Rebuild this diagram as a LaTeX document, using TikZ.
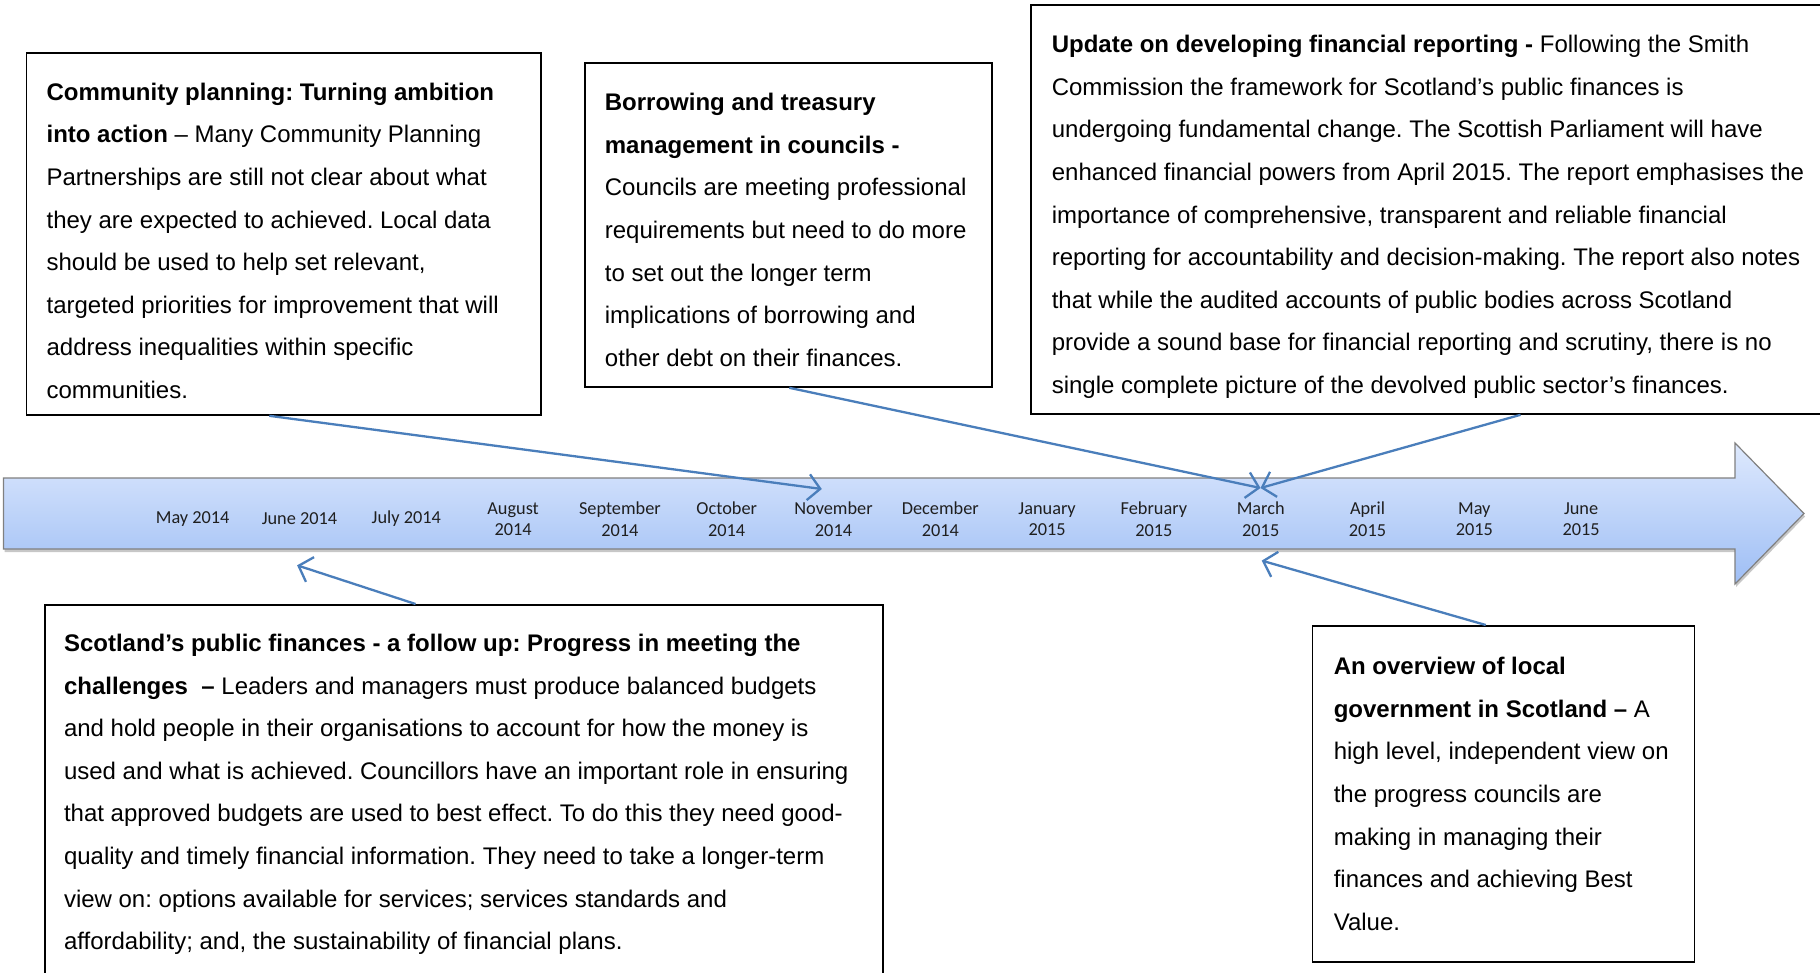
\documentclass[tikz,border=0pt]{standalone}
\usepackage{fontspec}
\setmainfont{Liberation Sans}
\newfontfamily\monthfont{Carlito}
\usetikzlibrary{arrows.meta,shadows}
\frenchspacing

\definecolor{linkblue}{RGB}{74,126,187}
\definecolor{bandtop}{RGB}{222,233,253}
\definecolor{bandbottom}{RGB}{158,190,245}
\definecolor{bandedge}{RGB}{128,128,128}

\tikzset{
  card/.style={draw=black, line width=1.8pt, fill=white, anchor=north west, inner sep=0pt},
  cardtext/.style={anchor=north west, align=left, inner sep=0pt,
    font=\fontsize{24}{42.6}\selectfont},
  month/.style={align=center, inner sep=0pt, text=black!88,
    font=\monthfont\fontsize{18.3}{21.5}\selectfont},
  link/.style={draw=linkblue, line width=2.3pt,
    -{Straight Barb[length=12pt,width=26pt,line width=2.3pt]}},
}
% first line of every card starts with this strut, so the node top sits 18pt above its baseline
\newcommand{\firststrut}{\rule{0pt}{18pt}}

\begin{document}
\begin{tikzpicture}[x=1pt,y=-1pt]
\useasboundingbox (0,0) rectangle (1820,972);
\clip (0,0) rectangle (1820,972);
\fill[white] (0,0) rectangle (1820,972);

% timeline band with its arrow head
\path[draw=bandedge, line width=1.2pt, top color=bandtop, bottom color=bandbottom,
      drop shadow={shadow xshift=1pt, shadow yshift=-3pt, fill=black, opacity=0.22}]
  (3.5,478) -- (1735,478) -- (1735,443) -- (1804,513.5) -- (1735,584) -- (1735,549)
  -- (3.5,549) -- cycle;

% month labels
\foreach \lab [count=\i] in {May 2014, June 2014, July 2014, {August\\2014},
    {September\\2014}, {October\\2014}, {November\\2014}, {December\\2014},
    {January\\2015}, {February\\2015}, {March\\2015}, {April\\2015},
    {May\\2015}, {June\\2015}}
  \node[month] (m\i) at ({192.7+106.8*(\i-1)},519) {\lab};

% report cards
\node[card, minimum width=514.5pt, minimum height=362pt] (cp) at (25.5,52) {};
\node[cardtext] (cptext) at (46.4,82) {\firststrut\textbf{Community planning: Turning ambition}\\
  \textbf{into action} – Many Community Planning\\
  Partnerships are still not clear about what\\
  they are expected to achieved. Local data\\
  should be used to help set relevant,\\
  targeted priorities for improvement that will\\
  address inequalities within specific\\
  communities.};

\node[card, minimum width=407pt, minimum height=324pt] (bt) at (584,62) {};
\node[cardtext] (bttext) at (604.7,92.4) {\firststrut\textbf{Borrowing and treasury}\\
  \textbf{management in councils -}\\
  Councils are meeting professional\\
  requirements but need to do more\\
  to set out the longer term\\
  implications of borrowing and\\
  other debt on their finances.};

\node[card, minimum width=810pt, minimum height=409pt] (fr) at (1030,4) {};
\node[cardtext] (frtext) at (1051.6,34.4) {\firststrut\textbf{Update on developing financial reporting -} Following the Smith\\
  Commission the framework for Scotland’s public finances is\\
  undergoing fundamental change. The Scottish Parliament will have\\
  enhanced financial powers from April 2015. The report emphasises the\\
  importance of comprehensive, transparent and reliable financial\\
  reporting for accountability and decision-making. The report also notes\\
  that while the audited accounts of public bodies across Scotland\\
  provide a sound base for financial reporting and scrutiny, there is no\\
  single complete picture of the devolved public sector’s finances.};

\node[card, minimum width=838pt, minimum height=390pt] (pf) at (44,604) {};
\node[cardtext] (pftext) at (63.8,633.3) {\firststrut\textbf{Scotland’s public finances - a follow up: Progress in meeting the}\\
  \textbf{challenges\ \ –} Leaders and managers must produce balanced budgets\\
  and hold people in their organisations to account for how the money is\\
  used and what is achieved. Councillors have an important role in ensuring\\
  that approved budgets are used to best effect. To do this they need good-\\
  quality and timely financial information. They need to take a longer-term\\
  view on: options available for services; services standards and\\
  affordability; and, the sustainability of financial plans.};

\node[card, minimum width=382pt, minimum height=336pt] (lg) at (1311.6,625) {};
\node[cardtext] (lgtext) at (1333.6,656.5) {\firststrut\textbf{An overview of local}\\
  \textbf{government in Scotland –} A\\
  high level, independent view on\\
  the progress councils are\\
  making in managing their\\
  finances and achieving Best\\
  Value.};

% points on the timeline that the cards refer to
\coordinate (novtop) at (821.8,489);
\coordinate (martop) at (1260.5,488);
\coordinate (marbottom) at (1261.7,560.6);
\coordinate (junbottom) at (297.1,565.3);

% connectors
\draw[link] ([xshift=243.8pt]cp.south west) -- (novtop);
\draw[link] ([xshift=205.3pt]bt.south west) -- (martop);
\draw[link] ([xshift=490.5pt]fr.south west) -- (martop);
\draw[link] ([xshift=371.5pt]pf.north west) -- (junbottom);
\draw[link] ([xshift=174.1pt]lg.north west) -- (marbottom);
\end{tikzpicture}
\end{document}
